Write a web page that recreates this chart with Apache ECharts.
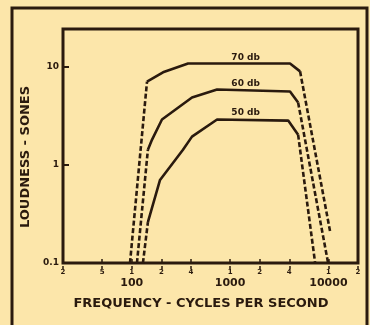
<!DOCTYPE html>
<html>
<head>
<meta charset="utf-8">
<script src="https://cdn.jsdelivr.net/npm/echarts@6/dist/echarts.min.js"></script>
<style>
  html, body { margin: 0; padding: 0; background: #fce6aa; }
  #chart { width: 370px; height: 325px; }
</style>
</head>
<body>
<div id="chart"></div>
<script>
// loudness curves (frequency in c/s, loudness in sones)
var freq70 = [96, 143, 208, 374, 4070, 5150, 10400];
var sone70 = [0.1, 7.0, 8.7, 10.7, 10.7, 8.9, 0.21];
var freq60 = [113, 146, 161, 203, 410, 738, 4070, 4920, 9930];
var sone60 = [0.1, 1.42, 1.8, 2.88, 4.83, 5.82, 5.56, 4.29, 0.1];
var freq50 = [130, 146, 194, 332, 410, 738, 3900, 4920, 7330];
var sone50 = [0.1, 0.26, 0.70, 1.42, 1.93, 2.88, 2.81, 2.02, 0.1];

var curveNames = ['70 db', '60 db', '50 db'];
var labelFreq = [1440, 1440, 1440];
var labelSone = [12.4, 6.7, 3.36];

var xTicks = [20, 50, 100, 200, 400, 1000, 2000, 4000, 10000, 20000];
var yTicks = [0.1, 1, 10];

var ink = '#2a1a0e';
var font = 'DejaVu Sans';

function seg(f, s, a, b) {
    var out = [];
    for (var i = a; i <= b; i++) out.push([f[i], s[i]]);
    return out;
}

function curve(name, f, s, lo, hi, labelIdx) {
    var last = f.length - 1;
    var dashed = { color: ink, width: 2.6, type: [5, 2.5] };
    var solid = { color: ink, width: 2.6 };
    return [
        { name: name, type: 'line', data: seg(f, s, 0, lo), lineStyle: dashed, showSymbol: false, silent: true },
        { name: name, type: 'line', data: seg(f, s, lo, hi), lineStyle: solid, showSymbol: false, silent: true,
          markPoint: {
              symbol: 'circle', symbolSize: 0, silent: true,
              label: { show: true, position: 'inside', formatter: name, color: ink, fontFamily: font, fontWeight: 'bold', fontSize: 9 },
              data: [{ coord: [labelFreq[labelIdx], labelSone[labelIdx]] }]
          } },
        { name: name, type: 'line', data: seg(f, s, hi, last), lineStyle: dashed, showSymbol: false, silent: true }
    ];
}

var series = [].concat(
    curve(curveNames[0], freq70, sone70, 1, 5, 0),
    curve(curveNames[1], freq60, sone60, 1, 7, 1),
    curve(curveNames[2], freq50, sone50, 1, 7, 2)
);

var option = {
    backgroundColor: '#fce6aa',
    animation: false,
    graphic: [{
        type: 'rect', shape: { x: 12, y: 8, width: 355, height: 340 },
        style: { fill: null, stroke: ink, lineWidth: 3 }, silent: true
    }],
    grid: { left: 63, right: 12, top: 29, bottom: 62, show: true, borderColor: ink, borderWidth: 3 },
    xAxis: [{
        type: 'log', min: 20, max: 20000,
        name: 'FREQUENCY - CYCLES PER SECOND', nameLocation: 'middle', nameGap: 34,
        nameTextStyle: { color: ink, fontFamily: font, fontWeight: 'bold', fontSize: 13, padding: [0, 19, 0, 0] },
        axisLine: { show: false },
        splitLine: { show: false },
        axisTick: { show: true, inside: true, length: 4, lineStyle: { color: ink, width: 1.5 }, customValues: xTicks },
        axisLabel: {
            customValues: xTicks, margin: 4, color: ink,
            formatter: function (v) {
                var p = Math.pow(10, Math.floor(Math.log10(v) + 1e-9));
                var d = Math.round(v / p);
                return d === 1 ? '{d|1}\n{big|' + Math.round(v) + '}' : '{d|' + d + '}';
            },
            rich: {
                d: { fontFamily: font, fontWeight: 'bold', fontSize: 7, lineHeight: 10, color: ink },
                big: { fontFamily: font, fontWeight: 'bold', fontSize: 11, lineHeight: 12, color: ink }
            }
        }
    }, {
        type: 'log', min: 20, max: 20000, position: 'bottom', offset: 3,
        axisLine: { show: false }, splitLine: { show: false }, axisLabel: { show: false },
        axisTick: { show: true, length: 3, lineStyle: { color: ink, width: 1.5 }, customValues: xTicks }
    }],
    yAxis: {
        type: 'log', min: 0.1, max: 24,
        name: 'LOUDNESS - SONES', nameLocation: 'middle', nameGap: 27,
        nameTextStyle: { color: ink, fontFamily: font, fontWeight: 'bold', fontSize: 13, padding: [0, 22, 0, 0] },
        axisLine: { show: false },
        splitLine: { show: false },
        axisTick: { show: true, inside: true, length: 6, lineStyle: { color: ink, width: 2 }, customValues: yTicks },
        axisLabel: { customValues: yTicks, margin: 4, color: ink, fontFamily: font, fontWeight: 'bold', fontSize: 9 }
    },
    series: series
};

var chart = echarts.init(document.getElementById('chart'));
chart.setOption(option);
</script>
</body>
</html>
